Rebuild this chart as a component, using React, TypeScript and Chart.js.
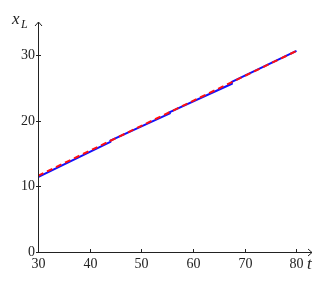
import React, { useEffect, useRef } from "react";
import { Chart, registerables } from "chart.js";

Chart.register(...registerables);

const blueT = [30, 44, 44, 55.5, 55.5, 67.5, 67.5, 80];
const blueX = [11.4, 16.75, 16.95, 21.1, 21.3, 25.6, 25.9, 30.6];
const redT = [30, 80];
const redX = [11.6, 30.6];
const xTicks = [30, 40, 50, 60, 70, 80];
const yTicks = [0, 10, 20, 30];

const FONT = '"Liberation Serif", "DejaVu Serif", serif';

const axesPlugin = {
  id: "axesArrows",
  afterDraw(chart: any) {
    const ctx = chart.ctx;
    const xs = chart.scales.x;
    const ys = chart.scales.y;
    const x0 = xs.getPixelForValue(30);
    const y0 = ys.getPixelForValue(0);
    const xEnd = xs.right;
    const yEnd = ys.top;
    ctx.save();
    ctx.strokeStyle = "#222";
    ctx.fillStyle = "#222";
    ctx.lineWidth = 1;
    ctx.beginPath();
    ctx.moveTo(x0, y0 + 0.5);
    ctx.lineTo(xEnd, y0 + 0.5);
    ctx.moveTo(x0 + 0.5, y0);
    ctx.lineTo(x0 + 0.5, yEnd);
    ctx.stroke();
    ctx.beginPath();
    ctx.moveTo(xEnd - 4, y0 - 3);
    ctx.lineTo(xEnd, y0 + 0.5);
    ctx.lineTo(xEnd - 4, y0 + 4);
    ctx.moveTo(x0 - 3, yEnd + 4);
    ctx.lineTo(x0 + 0.5, yEnd);
    ctx.lineTo(x0 + 4, yEnd + 4);
    ctx.stroke();
    ctx.font = "14px " + FONT;
    ctx.textAlign = "center";
    ctx.textBaseline = "top";
    xTicks.forEach((t) => {
      const px = Math.round(xs.getPixelForValue(t)) + 0.5;
      ctx.beginPath();
      ctx.moveTo(px, y0 - 3);
      ctx.lineTo(px, y0);
      ctx.stroke();
      ctx.fillText(String(t), px, y0 + 5);
    });
    ctx.textAlign = "right";
    ctx.textBaseline = "middle";
    yTicks.forEach((v) => {
      const py = Math.round(ys.getPixelForValue(v)) + 0.5;
      ctx.beginPath();
      ctx.moveTo(x0 - 2, py);
      ctx.lineTo(x0 + 3, py);
      ctx.stroke();
      ctx.fillText(String(v), x0 - 3, py);
    });
    ctx.font = "italic 17px " + FONT;
    ctx.textAlign = "left";
    ctx.textBaseline = "alphabetic";
    ctx.fillText("x", 12, 24);
    ctx.font = "italic 12px " + FONT;
    ctx.fillText("L", 21, 28);
    ctx.font = "italic 17px " + FONT;
    ctx.fillText("t", 307, 269);
    ctx.restore();
  },
};

export default function App() {
  const ref = useRef<HTMLCanvasElement>(null);
  useEffect(() => {
    if (!ref.current) return;
    const chart = new Chart(ref.current, {
      type: "scatter",
      data: {
        datasets: [
          {
            data: blueT.map((t, i) => ({ x: t, y: blueX[i] })),
            showLine: true,
            borderColor: "#1010ff",
            borderWidth: 2,
            pointRadius: 0,
            order: 2,
          },
          {
            data: redT.map((t, i) => ({ x: t, y: redX[i] })),
            showLine: true,
            borderColor: "#ff1010",
            borderWidth: 2,
            borderDash: [6, 4],
            pointRadius: 0,
            order: 1,
          },
        ],
      },
      options: {
        animation: false,
        responsive: false,
        maintainAspectRatio: false,
        layout: { padding: { left: 38, right: 16, top: 22, bottom: 38 } },
        plugins: { legend: { display: false }, tooltip: { enabled: false } },
        scales: {
          x: { type: "linear", min: 30, max: 83, display: false },
          y: { type: "linear", min: 0, max: 35, display: false },
        },
      },
      plugins: [axesPlugin],
    });
    return () => chart.destroy();
  }, []);
  return (
    <div style={{ position: "fixed", left: 0, top: 0, width: 328, height: 290, background: "#fff" }}>
      <canvas ref={ref} width={328} height={290} style={{ width: 328, height: 290 }} />
    </div>
  );
}
